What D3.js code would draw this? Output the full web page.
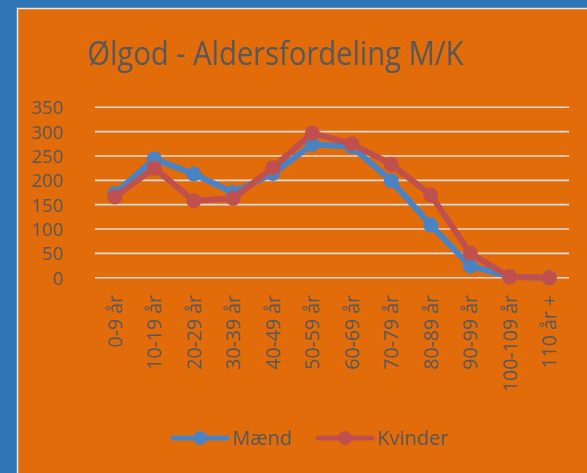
<!DOCTYPE html>
<html><head><meta charset="utf-8">
<script src="https://cdn.jsdelivr.net/npm/d3@7"></script>
<style>html,body{margin:0;padding:0;background:#2E75B6;overflow:hidden}</style>
</head><body>
<svg id="c" width="587" height="473"></svg>
<script>
const categories = ["0-9 år","10-19 år","20-29 år","30-39 år","40-49 år","50-59 år","60-69 år","70-79 år","80-89 år","90-99 år","100-109 år","110 år +"];
const maend   = [173, 244, 213, 175, 214, 274, 269, 199, 108, 24, 2, 0];
const kvinder = [166, 225, 158, 163, 226, 297, 275, 233, 170, 50, 2, 0];
const yTicks = [0, 50, 100, 150, 200, 250, 300, 350];
const seriesNames = ["Mænd", "Kvinder"];
const seriesColors = ["#4A83C4", "#C0504D"];

const svg = d3.select("#c");
const font = "'Open Sans', 'Noto Sans', sans-serif";
const textCol = "#595959";

svg.append("rect").attr("x",0).attr("y",0).attr("width",587).attr("height",473).attr("fill","#2E75B6");
svg.append("rect").attr("x",17.5).attr("y",8.5).attr("width",600).attr("height",500)
  .attr("fill","#E36C0A").attr("stroke","#E8E8E8").attr("stroke-width",1.5);

svg.append("text").attr("x",275).attr("y",65).attr("text-anchor","middle")
  .attr("font-family",font).attr("font-size",33).attr("fill",textCol)
  .attr("textLength",376).attr("lengthAdjust","spacingAndGlyphs")
  .text("Ølgod - Aldersfordeling M/K");

const x = d3.scaleBand().domain(categories).range([95, 569]);
const y = d3.scaleLinear().domain([0, 350]).range([277.7, 107.3]);

// gridlines
svg.append("g").selectAll("line").data(yTicks).join("line")
  .attr("x1",95).attr("x2",569).attr("y1",d=>y(d)).attr("y2",d=>y(d))
  .attr("stroke","#E0DCD6").attr("stroke-width",1.6);

// y axis
const yAxis = d3.axisLeft(y).tickValues(yTicks).tickSize(0).tickPadding(0);
const gy = svg.append("g").attr("transform","translate(63,0)").call(yAxis);
gy.select(".domain").remove();
gy.selectAll("text").attr("font-family",font).attr("font-size",18.5).attr("fill",textCol).attr("dy","0.35em");

// x axis
const xAxis = d3.axisBottom(x).tickSize(0).tickPadding(0);
const gx = svg.append("g").attr("transform","translate(0,295)").call(xAxis);
gx.select(".domain").remove();
gx.selectAll("text").attr("font-family",font).attr("font-size",19.5).attr("fill",textCol)
  .attr("text-anchor","end").attr("transform","rotate(-90)").attr("x",0).attr("y",0).attr("dy","0.35em");

const cx = d => x(d) + x.bandwidth()/2;
const data = [maend, kvinder];
const line = d3.line().x((d,i)=>cx(categories[i])).y(d=>y(d));

data.forEach((vals, s) => {
  const g = svg.append("g");
  g.append("path").datum(vals).attr("d", line).attr("fill","none")
    .attr("stroke", seriesColors[s]).attr("stroke-width",6).attr("stroke-linejoin","round");
  g.selectAll("circle").data(vals).join("circle")
    .attr("cx",(d,i)=>cx(categories[i])).attr("cy",d=>y(d)).attr("r",7.5).attr("fill",seriesColors[s]);
});

// legend
const legendX = [173, 318];
seriesNames.forEach((n, s) => {
  const g = svg.append("g").attr("transform",`translate(${legendX[s]},438)`);
  g.append("line").attr("x1",0).attr("x2",54).attr("y1",0).attr("y2",0)
    .attr("stroke",seriesColors[s]).attr("stroke-width",5).attr("stroke-linecap","round");
  g.append("circle").attr("cx",27).attr("cy",0).attr("r",7).attr("fill",seriesColors[s]);
  g.append("text").attr("x",59).attr("y",0).attr("dy","0.35em").attr("font-family",font)
    .attr("font-size",20).attr("fill",textCol).text(n);
});
</script>
</body></html>
